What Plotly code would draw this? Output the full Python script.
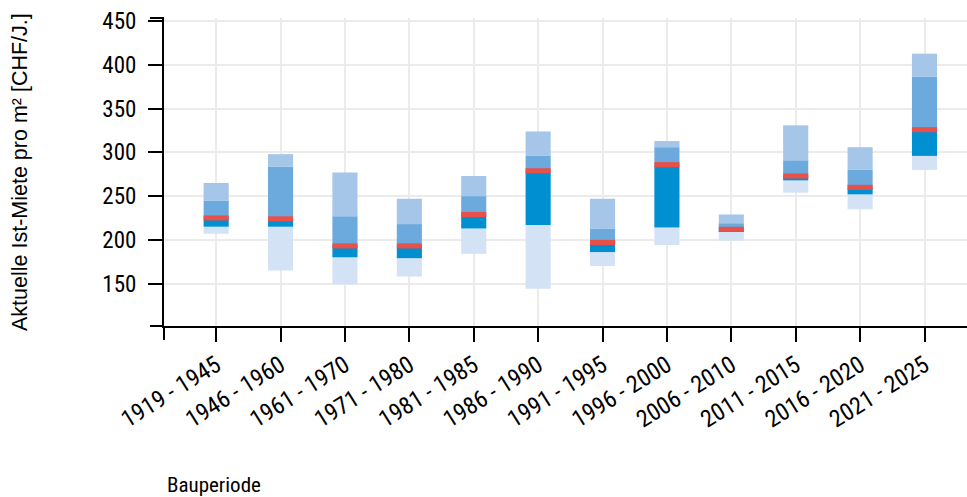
import plotly.graph_objects as go

categories = ["1919 - 1945", "1946 - 1960", "1961 - 1970", "1971 - 1980", "1981 - 1985",
              "1986 - 1990", "1991 - 1995", "1996 - 2000", "2006 - 2010", "2011 - 2015",
              "2016 - 2020", "2021 - 2025"]
p10 = [207, 165, 149, 158, 184, 144, 170, 194, 199, 254, 235, 280]
p25 = [215, 215, 180, 179, 213, 217, 186, 214, 209, 268, 252, 296]
median = [225, 224, 193, 193, 229, 279, 197, 286, 212, 273, 260, 326]
p75 = [245, 284, 227, 218, 250, 296, 213, 306, 219, 291, 280, 387]
p90 = [265, 298, 277, 247, 273, 324, 247, 313, 229, 331, 306, 413]
y_ticks = [150, 200, 250, 300, 350, 400, 450]

x = list(range(len(categories)))
C_LIGHTEST = "#d3e3f5"
C_DARK = "#008fd0"
C_MED = "#6ca9dc"
C_LIGHT = "#a5c5e9"
C_RED = "#e8504a"
NARROW = ("Roboto Condensed, Noto Sans Condensed, Liberation Sans Narrow, "
          "Arial Narrow, DejaVu Sans Condensed, sans-serif")
BW = 0.39
MEDIAN_BAND = 5.8  # visual thickness of the median marker, in axis units

fig = go.Figure()
segments = [
    (p10, p25, C_LIGHTEST),
    (p25, median, C_DARK),
    (median, p75, C_MED),
    (p75, p90, C_LIGHT),
]
for lo, hi, col in segments:
    fig.add_trace(go.Bar(
        x=x, base=lo, y=[h - l for l, h in zip(lo, hi)],
        width=BW, marker=dict(color=col, line=dict(width=0)),
        showlegend=False, hoverinfo="skip"))

fig.add_trace(go.Bar(
    x=x, base=[m - MEDIAN_BAND / 2 for m in median], y=[MEDIAN_BAND] * len(median),
    width=BW, marker=dict(color=C_RED, line=dict(width=0)),
    showlegend=False, hoverinfo="skip"))

PLOT_W = 967 - 164
PLOT_H = 497 - 18 - 171

fig.update_layout(
    width=967, height=497,
    margin=dict(l=164, r=0, t=18, b=171, autoexpand=False),
    plot_bgcolor="white", paper_bgcolor="white",
    barmode="overlay",
    xaxis=dict(
        range=[-0.81, 11.66], tickmode="array", tickvals=x, ticktext=categories,
        tickangle=-32, showgrid=True, gridcolor="#ebebeb", gridwidth=2,
        showline=True, linecolor="black", linewidth=2,
        ticks="outside", ticklen=14, tickwidth=2, tickcolor="black",
        tickfont=dict(family=NARROW, size=24, color="black"), zeroline=False,
        automargin=False),
    yaxis=dict(
        range=[101.4, 453.8], tickmode="array", tickvals=y_ticks,
        showgrid=True, gridcolor="#ebebeb", gridwidth=2,
        showline=True, linecolor="black", linewidth=2,
        ticks="outside", ticklen=14, tickwidth=2, tickcolor="black",
        tickfont=dict(family=NARROW, size=23, color="black"), zeroline=False,
        ticklabelstandoff=7, automargin=False),
    annotations=[
        dict(text="Aktuelle Ist-Miete pro m² [CHF/J.]", xref="paper", yref="paper",
             x=(20 - 164) / PLOT_W, y=0.5, xanchor="center", yanchor="middle", textangle=-90,
             showarrow=False, font=dict(family="Liberation Sans, Arial, sans-serif", size=21.5, color="black")),
        dict(text="Bauperiode", xref="paper", yref="paper", x=0.001, y=-(485 - 326) / PLOT_H,
             xanchor="left", yanchor="middle", showarrow=False,
             font=dict(family=NARROW, size=21, color="black")),
    ],
    shapes=[
        # axis end caps
        dict(type="line", xref="paper", yref="paper", x0=0, x1=0, y0=0, y1=-14 / PLOT_H,
             line=dict(color="black", width=2)),
        dict(type="line", xref="paper", yref="paper", x0=-14 / PLOT_W, x1=0, y0=0, y1=0,
             line=dict(color="black", width=2)),
        dict(type="line", xref="paper", yref="paper", x0=-14 / PLOT_W, x1=0, y0=1, y1=1,
             line=dict(color="black", width=2)),
    ],
)

fig.write_html("out.html", config={"displayModeBar": False},
               post_script="document.body.style.margin='0';")
